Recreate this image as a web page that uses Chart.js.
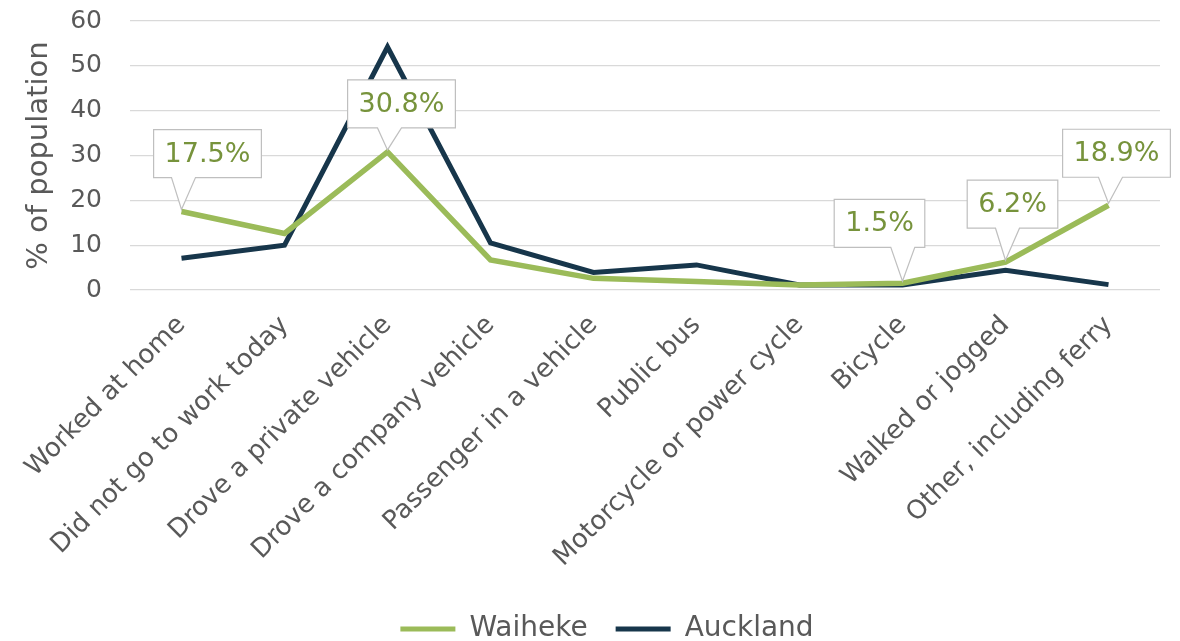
<!DOCTYPE html>
<html>
<head>
<meta charset="utf-8">
<script src="https://cdn.jsdelivr.net/npm/chart.js@4.4.1/dist/chart.umd.min.js"></script>
<style>
  html,body{margin:0;padding:0;background:#fff;overflow:hidden;}
  #wrap{width:1180px;height:641px;position:relative;overflow:hidden;}
</style>
</head>
<body>
<div id="wrap"><canvas id="c" width="1180" height="653"></canvas></div>
<script>
const categories = [
  "Worked at home", "Did not go to work today", "Drove a private vehicle",
  "Drove a company vehicle", "Passenger in a vehicle", "Public bus",
  "Motorcycle or power cycle", "Bicycle", "Walked or jogged", "Other, including ferry"
];
const waiheke = [17.5, 12.6, 30.8, 6.7, 2.6, 1.9, 1.1, 1.5, 6.2, 18.9];
const auckland = [7.1, 10.0, 54.2, 10.5, 3.9, 5.6, 1.1, 1.1, 4.4, 1.2];
const yTicks = [0, 10, 20, 30, 40, 50, 60];
const calloutIndices = [0, 2, 7, 8, 9];

const FONT = "'DejaVu Sans', sans-serif";
const TEXT = '#595959';
const GREEN = '#9BBB59';
const NAVY = '#17364B';

// layout constants (pixels)
const PLOT_TOP = 21, PLOT_BOTTOM = 290, PLOT_LEFT = 130;
const PAD_LEFT = 54, PAD_RIGHT = 20;

// callout box center offsets (pixels) relative to the data point
const calloutOffsets = {0: [26, -58], 2: [14, -48], 7: [-23, -60], 8: [7, -58], 9: [8, -52]};

const calloutPlugin = {
  id: 'callouts',
  afterDatasetsDraw(chart) {
    const meta = chart.getDatasetMeta(0);
    const ctx = chart.ctx;
    ctx.save();
    ctx.font = "27px " + FONT;
    calloutIndices.forEach(i => {
      const pt = meta.data[i];
      const px = pt.x, py = pt.y;
      const off = calloutOffsets[i];
      const text = waiheke[i].toFixed(1) + '%';
      const tw = ctx.measureText(text).width;
      const w = tw + 22, h = 48;
      const cx = px + off[0], cy = py + off[1];
      const l = cx - w / 2, t = cy - h / 2, r = cx + w / 2, b = cy + h / 2;
      let b1 = Math.min(Math.max(px - 10, l + 10), r - 34);
      let b2 = b1 + 24;
      ctx.beginPath();
      ctx.moveTo(l, t);
      ctx.lineTo(r, t);
      ctx.lineTo(r, b);
      ctx.lineTo(b2, b);
      ctx.lineTo(px, py - 2);
      ctx.lineTo(b1, b);
      ctx.lineTo(l, b);
      ctx.closePath();
      ctx.fillStyle = '#ffffff';
      ctx.fill();
      ctx.strokeStyle = '#bfbfbf';
      ctx.lineWidth = 1.2;
      ctx.stroke();
      ctx.fillStyle = '#77933C';
      ctx.textAlign = 'center';
      ctx.textBaseline = 'middle';
      ctx.fillText(text, cx, cy + 1);
    });
    ctx.restore();
  }
};

const LEGEND_PAD = 28;
const LEGEND_FONT = 28;

new Chart(document.getElementById('c'), {
  type: 'line',
  data: {
    labels: categories,
    datasets: [
      {label: 'Waiheke', data: waiheke, borderColor: GREEN, backgroundColor: GREEN,
       borderWidth: 5.5, pointRadius: 0, tension: 0, borderJoinStyle: 'miter'},
      {label: 'Auckland', data: auckland, borderColor: NAVY, backgroundColor: NAVY,
       borderWidth: 5, pointRadius: 0, tension: 0, borderJoinStyle: 'miter'}
    ]
  },
  options: {
    responsive: false,
    animation: false,
    layout: {padding: {top: 0, left: PAD_LEFT, right: PAD_RIGHT, bottom: 0}},
    plugins: {
      tooltip: {enabled: false},
      legend: {
        position: 'bottom',
        labels: {
          font: {family: FONT, size: LEGEND_FONT},
          color: TEXT,
          boxWidth: 55,
          boxHeight: 5,
          padding: LEGEND_PAD,
          generateLabels(chart) {
            return chart.data.datasets.map((d, i) => ({
              text: d.label, fillStyle: d.borderColor, strokeStyle: d.borderColor,
              lineWidth: 0, datasetIndex: i, fontColor: TEXT
            }));
          }
        }
      }
    },
    scales: {
      x: {
        offset: true,
        grid: {display: false},
        border: {display: false},
        ticks: {
          font: {family: FONT, size: 26},
          color: TEXT,
          minRotation: 45, maxRotation: 45,
          padding: 12,
          autoSkip: false
        },
        afterFit(scale) {
          const lg = scale.chart.legend;
          const lh = lg ? lg.height : 0;
          scale.height = scale.chart.height - lh - PLOT_BOTTOM;
        }
      },
      y: {
        min: 0, max: 60,
        afterBuildTicks(scale) { scale.ticks = yTicks.map(v => ({value: v})); },
        grid: {color: '#d9d9d9', lineWidth: 1.2, drawTicks: false},
        border: {display: false},
        ticks: {font: {family: FONT, size: 25}, color: TEXT, padding: 28},
        title: {display: true, text: '% of population', color: TEXT,
                font: {family: FONT, size: 29}, padding: {top: 22 - PAD_LEFT, bottom: 0}},
        afterFit(scale) {
          scale.width = PLOT_LEFT - PAD_LEFT;
          scale.paddingTop = PLOT_TOP;
          scale.paddingBottom = 0;
        }
      }
    }
  },
  plugins: [calloutPlugin]
});
</script>
</body>
</html>
